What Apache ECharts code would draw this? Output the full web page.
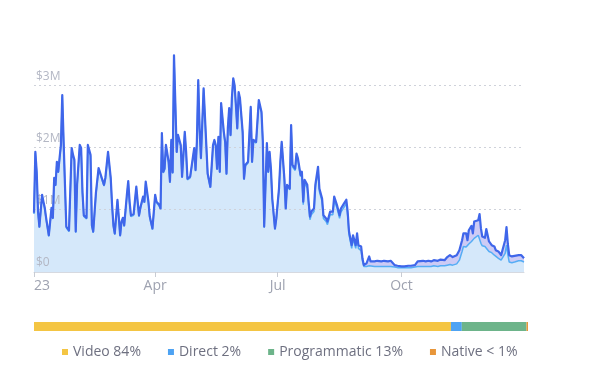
<!DOCTYPE html>
<html><head><meta charset="utf-8">
<script src="https://cdn.jsdelivr.net/npm/echarts@6/dist/echarts.min.js"></script>
<style>html,body{margin:0;padding:0;background:#fff}#c{width:600px;height:371px}</style>
</head><body><div id="c"></div>
<script>
// Day of year (2023) for each sample
const days = [
0,1,2,3,4,6,7,8,9,11,
12,13,14,15,16,17,18,19,20,21,
22,23,24,25,26,28,29,30,31,32,
34,35,36,37,39,40,42,43,44,46,
47,48,49,52,53,55,57,58,59,60,
62,64,65,66,67,69,70,71,72,74,
75,76,77,78,79,81,82,83,85,86,
87,88,90,91,93,94,95,96,97,98,
100,101,102,103,104,106,107,109,110,112,
113,114,116,117,119,120,121,122,123,124,
126,128,129,130,131,133,134,135,136,137,
138,139,141,142,143,144,145,146,147,148,
149,150,151,152,153,155,156,157,159,161,
162,163,165,167,169,170,171,173,174,175,
176,177,179,180,182,183,184,186,187,188,
190,191,192,194,195,196,198,199,200,201,
203,204,205,206,208,209,211,212,214,215,
217,218,220,222,223,225,227,228,230,232,
233,234,236,237,239,240,241,243,244,245,
247,249,250,253,255,258,260,263,265,266,
268,270,273,275,278,280,283,285,286,289,
291,293,295,297,300,302,305,307,309,311,
314,316,318,319,321,322,323,325,326,327,
328,330,331,332,333,335,336,338,340,342,
343,345,347,348,350,351,352,353,355,357,
358,360,362,363,364
];
// Total revenue ($M)
const total = [
0.95,1.93,1.61,0.97,0.73,1.24,1.13,1.03,0.87,0.59,
0.81,1.03,0.87,1.51,1.40,1.77,1.61,1.83,2.04,2.84,
2.09,1.40,0.73,0.73,0.67,1.99,1.88,1.80,0.65,1.40,
2.04,1.99,1.29,0.91,0.87,2.04,1.88,0.75,0.65,1.27,
1.29,1.67,1.66,1.40,1.51,1.93,1.51,1.08,0.75,0.62,
1.16,0.59,0.81,0.87,0.75,1.24,1.46,1.13,0.91,0.93,
0.91,1.37,1.13,0.91,1.03,1.21,1.13,1.45,1.13,0.89,
0.87,0.70,1.24,1.13,1.08,1.02,2.23,1.61,1.66,2.04,
1.77,1.45,2.12,1.60,3.48,1.93,2.20,2.04,1.53,2.25,
1.93,1.50,1.53,1.53,1.99,1.64,2.09,3.08,2.31,1.83,
2.95,2.04,1.58,1.56,1.37,2.04,2.12,2.04,1.66,2.17,
1.61,2.71,2.25,2.09,1.58,2.31,2.63,2.20,2.79,3.11,
3.00,2.68,2.31,2.89,2.79,2.25,1.50,1.72,1.77,2.65,
1.77,2.12,2.09,2.76,2.57,2.09,0.73,2.07,1.61,1.93,
1.66,1.18,0.70,0.86,1.34,1.77,2.09,1.50,1.02,1.40,
1.34,2.36,1.72,1.66,1.90,1.83,1.56,1.61,1.13,1.48,
1.40,1.13,0.89,0.97,1.02,1.40,1.69,1.34,1.18,0.91,
0.86,0.81,0.97,0.97,1.21,1.08,0.91,1.02,1.09,1.16,
0.97,0.65,0.43,0.59,0.43,0.62,0.43,0.41,0.22,0.11,
0.14,0.25,0.17,0.17,0.18,0.17,0.18,0.17,0.18,0.20,
0.11,0.10,0.09,0.09,0.10,0.10,0.11,0.17,0.17,0.18,
0.17,0.18,0.17,0.19,0.18,0.20,0.19,0.24,0.27,0.24,
0.27,0.35,0.51,0.62,0.62,0.51,0.67,0.74,0.62,0.81,
0.78,0.83,0.93,0.70,0.57,0.55,0.69,0.49,0.43,0.41,
0.35,0.33,0.27,0.35,0.51,0.72,0.45,0.27,0.25,0.26,
0.24,0.27,0.27,0.25,0.22
];
// Video revenue ($M)
const video = [
0.93,1.91,1.59,0.95,0.71,1.22,1.11,1.01,0.85,0.57,
0.79,1.01,0.85,1.49,1.38,1.75,1.59,1.81,2.02,2.82,
2.07,1.38,0.71,0.71,0.65,1.97,1.86,1.78,0.63,1.38,
2.02,1.97,1.27,0.89,0.85,2.02,1.86,0.73,0.63,1.25,
1.27,1.65,1.64,1.38,1.49,1.91,1.49,1.06,0.73,0.60,
1.14,0.57,0.79,0.85,0.73,1.22,1.44,1.11,0.89,0.91,
0.89,1.35,1.11,0.89,1.01,1.19,1.11,1.43,1.11,0.87,
0.85,0.68,1.22,1.11,1.06,1.00,2.21,1.59,1.64,2.02,
1.75,1.43,2.10,1.58,3.46,1.91,2.18,2.02,1.51,2.23,
1.91,1.48,1.51,1.51,1.97,1.62,2.07,3.06,2.29,1.81,
2.93,2.02,1.56,1.54,1.35,2.02,2.10,2.02,1.64,2.15,
1.59,2.69,2.23,2.07,1.56,2.29,2.61,2.18,2.77,3.09,
2.98,2.66,2.29,2.87,2.77,2.23,1.48,1.70,1.75,2.63,
1.75,2.10,2.07,2.74,2.55,2.07,0.71,2.05,1.59,1.91,
1.64,1.16,0.68,0.84,1.32,1.75,2.07,1.48,1.00,1.38,
1.32,2.33,1.69,1.63,1.87,1.80,1.53,1.58,1.08,1.43,
1.35,1.08,0.84,0.92,0.97,1.35,1.64,1.29,1.13,0.86,
0.81,0.76,0.92,0.92,1.15,1.03,0.86,0.96,1.03,1.10,
0.91,0.60,0.38,0.53,0.38,0.56,0.38,0.34,0.18,0.09,
0.09,0.10,0.09,0.09,0.09,0.09,0.09,0.09,0.09,0.10,
0.08,0.07,0.07,0.07,0.07,0.07,0.08,0.09,0.09,0.09,
0.09,0.09,0.09,0.10,0.09,0.10,0.10,0.11,0.12,0.11,
0.13,0.19,0.33,0.41,0.40,0.38,0.45,0.49,0.47,0.54,
0.55,0.59,0.58,0.46,0.42,0.41,0.40,0.33,0.31,0.27,
0.25,0.22,0.19,0.22,0.30,0.43,0.28,0.16,0.15,0.16,
0.16,0.18,0.18,0.17,0.16
];
const tickDays = [0, 90, 181, 273];
const tickLabels = ['23', 'Apr', 'Jul', 'Oct'];
const yTicks = [0, 1, 2, 3];
const shareNames = ['Video 84%', 'Direct 2%', 'Programmatic 13%', 'Native < 1%'];
const shareValues = [84.4, 2.2, 13.1, 0.3];
const shareColors = ['#F4C543', '#4EA3F3', '#6DB48A', '#E8963A'];

const pair = (a) => days.map((d, i) => [d, a[i]]);
const chart = echarts.init(document.getElementById('c'), null, {renderer: 'canvas'});
const barSeries = shareNames.map((n, i) => ({
  name: n, type: 'bar', stack: 's', xAxisIndex: 1, yAxisIndex: 1,
  barWidth: 9, data: [shareValues[i]], itemStyle: {color: shareColors[i]}, silent: true
}));
chart.setOption({
  animation: false,
  backgroundColor: '#fff',
  grid: [
    {left: 34, right: 76, top: 54, bottom: 99},
    {left: 34, width: 494, top: 322, height: 9}
  ],
  legend: {
    data: shareNames, left: 62, top: 345, padding: 0, icon: 'rect', itemWidth: 6, itemHeight: 6,
    itemGap: 27, textStyle: {fontFamily: 'Open Sans', fontSize: 14, color: '#6e7080'}
  },
  xAxis: [{
    type: 'value', min: 0, max: 364, gridIndex: 0, z: 3,
    axisLine: {show: true, lineStyle: {color: '#d6d9e0'}},
    axisTick: {show: true, length: 5, customValues: tickDays, lineStyle: {color: '#c8ccd4'}},
    axisLabel: {customValues: tickDays, margin: 7, alignMinLabel: 'left',
      fontFamily: 'Open Sans', fontSize: 14, color: '#9ea2b0',
      formatter: (v) => { const i = tickDays.indexOf(v); return i >= 0 ? tickLabels[i] : ''; }},
    splitLine: {show: false}
  }, {
    type: 'value', min: 0, max: 100, gridIndex: 1, show: false
  }],
  yAxis: [{
    type: 'value', min: 0, max: 3.5, interval: 1, gridIndex: 0, z: 3,
    axisLine: {show: false}, axisTick: {show: false},
    axisLabel: {inside: true, margin: 2, verticalAlign: 'bottom', showMaxLabel: false,
      padding: [0, 0, 3, 0], fontFamily: 'Open Sans', fontSize: 12, color: '#b3b7c4',
      formatter: (v) => yTicks.indexOf(v) >= 0 ? '$' + (v === 0 ? '0' : v + 'M') : ''},
    splitLine: {show: true, showMinLine: false, showMaxLine: false,
      lineStyle: {type: [2, 3], color: '#cfd2da', width: 1}}
  }, {
    type: 'category', data: ['share'], gridIndex: 1, show: false
  }],
  series: [
    {type: 'line', name: 'totalArea', data: pair(total), symbol: 'none', z: 1,
      lineStyle: {width: 0, opacity: 0}, areaStyle: {color: '#cdcbf5', opacity: 1}, silent: true},
    {type: 'line', name: 'video', data: pair(video), symbol: 'none', z: 2,
      lineStyle: {width: 1.5, color: '#55adf5'}, areaStyle: {color: '#d5e8fa', opacity: 1}, silent: true},
    {type: 'line', name: 'total', data: pair(total), symbol: 'none', z: 4,
      lineStyle: {width: 2.2, color: '#3f66ea', join: 'round'}, silent: true},
    ...barSeries
  ]
});
</script></body></html>
